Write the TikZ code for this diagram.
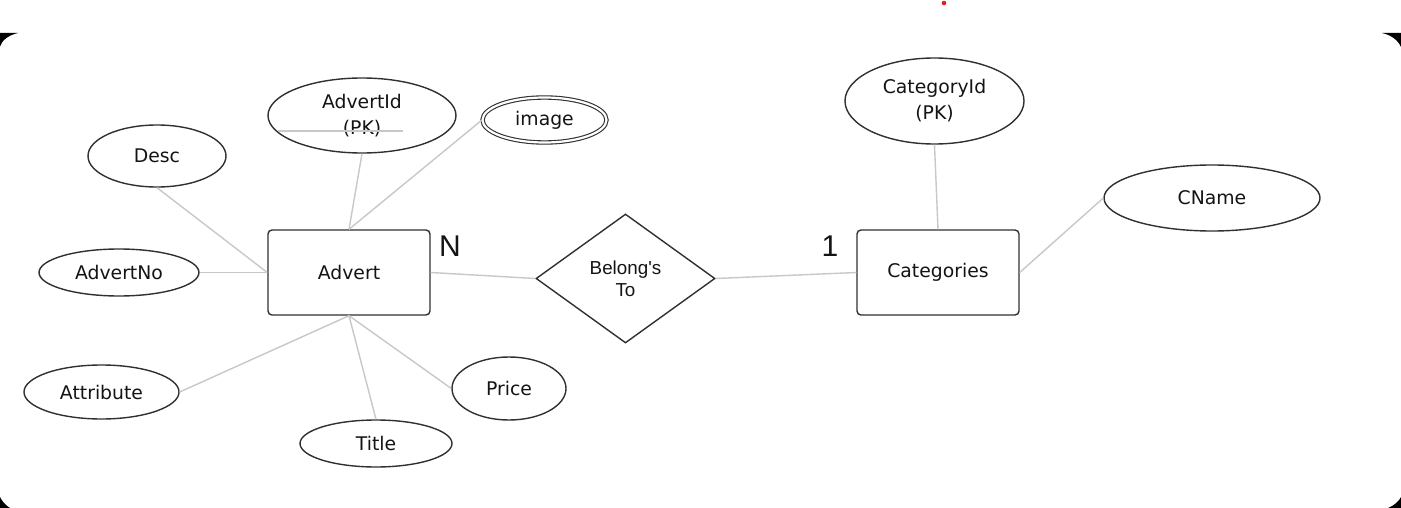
\documentclass[tikz,border=0pt]{standalone}
\usepackage{fontspec}
\setmainfont{DejaVu Sans}
\newfontfamily\arialf{Liberation Sans}
\usetikzlibrary{shapes.geometric}
\definecolor{bordc}{HTML}{303030}
\definecolor{linec}{HTML}{C8C8C8}
\definecolor{txtc}{HTML}{141414}
\definecolor{dotred}{HTML}{E02020}
\begin{document}
\begin{tikzpicture}[x=1pt,y=-1pt,
  attrib/.style={ellipse, draw=bordc, line width=1.4pt, inner sep=0pt, text=txtc,
    font=\fontsize{18.8}{26}\selectfont, align=center},
  entity/.style={rectangle, rounded corners=4pt, draw=bordc, line width=1.4pt,
    minimum width=162pt, minimum height=85pt, text=txtc, font=\fontsize{18.8}{22}\selectfont},
  relship/.style={diamond, draw=bordc, line width=1.4pt, inner sep=0pt, aspect=1.39,
    minimum width=179pt, minimum height=129pt, text=txtc, align=center,
    font=\arialf\fontsize{18.8}{22}\selectfont},
  card/.style={text=txtc, font=\arialf\fontsize{30}{30}\selectfont, inner sep=0pt},
  link/.style={draw=linec, line width=1.4pt}]
\useasboundingbox (0,0) rectangle (1401,508);
\fill[white] (0,0) rectangle (1401,508);
% screenshot corners
\fill[black] (0,33) -- (18,33) .. controls (9,35) and (2,40) .. (0,46.5) -- cycle;
\fill[black] (1401,33) -- (1382,33) .. controls (1391,35) and (1398,40) .. (1401,47) -- cycle;
\fill[black] (1401,508) -- (1388,508) .. controls (1395,505) and (1399,501) .. (1401,497) -- cycle;
\fill[black] (0,508) -- (10,508) .. controls (5,505) and (2,501) .. (0,497) -- cycle;
\fill[dotred] (944,3) circle (2.3);

% entities and relationship
\node[entity] (advert) at (349,272.5) {Advert};
\node[entity] (cat) at (938,272.5) {Categories};
\node[relship] (rel) at (625.5,278.5) {Belong's\\To};

% attributes
\node[attrib, minimum width=188pt, minimum height=75pt] (advertid) at (362,115.5) {AdvertId\\(PK)};
\node[attrib, double, double distance=2.2pt, line width=1.1pt, minimum width=124pt, minimum height=45pt] (image) at (544.5,120) {image};
\node[attrib, minimum width=138pt, minimum height=62pt] (desc) at (157,156) {Desc};
\node[attrib, minimum width=160pt, minimum height=47pt] (advertno) at (119,272.5) {AdvertNo};
\node[attrib, minimum width=155pt, minimum height=54pt] (attribute) at (101.5,392) {Attribute};
\node[attrib, minimum width=152pt, minimum height=47pt] (title) at (376,443.5) {Title};
\node[attrib, minimum width=114pt, minimum height=63pt] (price) at (509,388.5) {Price};
\node[attrib, minimum width=179pt, minimum height=86pt] (catid) at (934.5,101) {CategoryId\\(PK)};
\node[attrib, minimum width=216pt, minimum height=66pt] (cname) at (1212,198) {CName};

% gray stroke across AdvertId
\draw[link] (278,131) -- (403,131);

% connectors
\draw[link] (advertid.south) -- (advert.north);
\draw[link] (image.west) -- (advert.north);
\draw[link] (desc.south) -- (advert.west);
\draw[link] (advertno.east) -- (advert.west);
\draw[link] (attribute.east) -- (advert.south);
\draw[link] (title.north) -- (advert.south);
\draw[link] (price.west) -- (advert.south);
\draw[link] (advert.east) -- (rel.west);
\draw[link] (rel.east) -- (cat.west);
\draw[link] (catid.south) -- (cat.north);
\draw[link] (cname.west) -- (cat.east);

% cardinalities
\node[card] (cardN) at (450,246) {N};
\node[card] (card1) at (830,246) {1};
\end{tikzpicture}
\end{document}
